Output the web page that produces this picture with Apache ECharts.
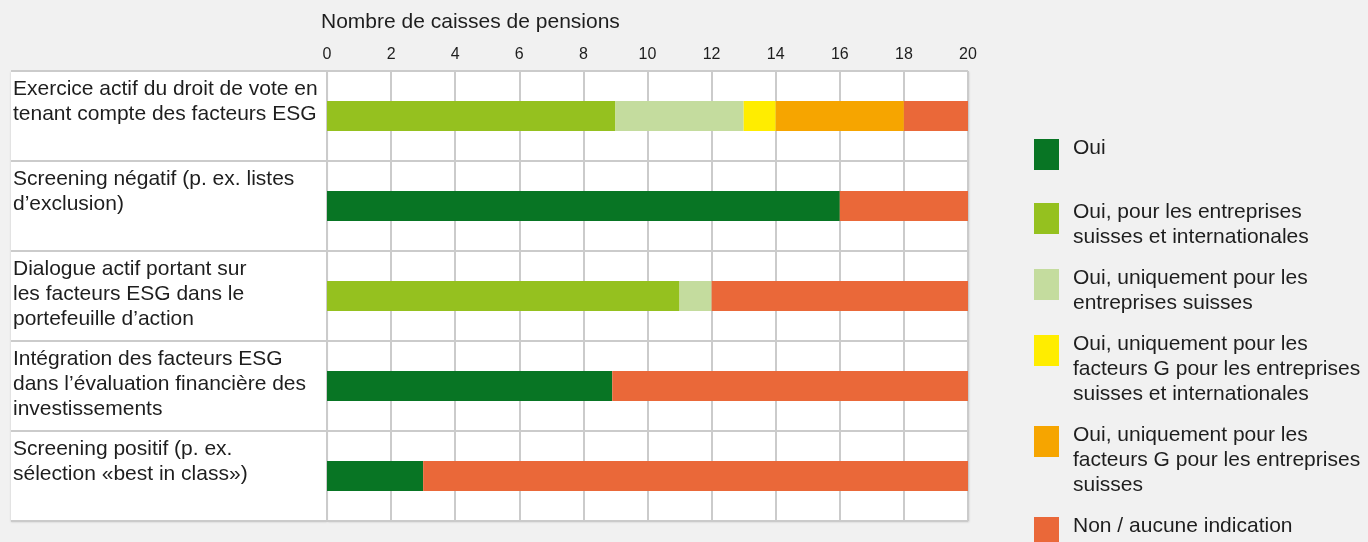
<!DOCTYPE html>
<html><head><meta charset="utf-8">
<script src="https://cdn.jsdelivr.net/npm/echarts@6/dist/echarts.min.js"></script>
<style>html,body{margin:0;padding:0;background:#f1f1f1}#c{width:1368px;height:542px}</style>
</head><body><div id="c"></div>
<script>
const axisTitle = 'Nombre de caisses de pensions';
const categories = [
  'Exercice actif du droit de vote en\ntenant compte des facteurs ESG',
  'Screening négatif (p. ex. listes\nd\u2019exclusion)',
  'Dialogue actif portant sur\nles facteurs ESG dans le\nportefeuille d\u2019action',
  'Intégration des facteurs ESG\ndans l\u2019évaluation financière des\ninvestissements',
  'Screening positif (p. ex.\nsélection «best in class»)'
];
const seriesNames = [
  'Oui',
  'Oui, pour les entreprises\nsuisses et internationales',
  'Oui, uniquement pour les\nentreprises suisses',
  'Oui, uniquement pour les\nfacteurs G pour les entreprises\nsuisses et internationales',
  'Oui, uniquement pour les\nfacteurs G pour les entreprises\nsuisses',
  'Non / aucune indication'
];
const ouiValues        = [0, 16, 0, 8.9, 3];
const ouiIntlValues    = [9, 0, 11, 0, 0];
const ouiSuisseValues  = [4, 0, 1, 0, 0];
const ouiGIntlValues   = [1, 0, 0, 0, 0];
const ouiGSuisseValues = [4, 0, 0, 0, 0];
const nonValues        = [2, 4, 8, 11.1, 17];
const xTicks = { min: 0, max: 20, interval: 2 };

const seriesValues = [ouiValues, ouiIntlValues, ouiSuisseValues, ouiGIntlValues, ouiGSuisseValues, nonValues];
const colors = ['#087524', '#95c11f', '#c4dc9e', '#ffed00', '#f6a500', '#ea6839'];
const FONT = '"Liberation Sans", Arial, sans-serif';
const TXT = '#1e1e1e';
const FS = 21, LH = 25;
const GRID_LINE = { show: true, lineStyle: { color: '#cbcbcb', width: 2 } };

// legend layout: icon tops, text first line aligned with icon top
const legendIconTops = [139, 203, 269, 335, 426, 517];
const legends = seriesNames.map((name, i) => {
  const n = name.split('\n').length;
  const s = LH * n - 37;               // leading spacer (or trailing if negative)
  let fmt, rectTop;
  const body = name.split('\n').map(l => '{t|' + l + '}').join('\n');
  if (s > 0) { fmt = '{sp|\u00a0}\n' + body; rectTop = -3 - s; }
  else { fmt = body + '\n{sb|\u00a0}'; rectTop = -3; }
  return {
    data: [name], left: 1034, top: legendIconTops[i] + rectTop, padding: 0,
    icon: 'rect', itemWidth: 25, itemHeight: 31, selectedMode: false,
    formatter: () => fmt,
    textStyle: {
      color: TXT, fontFamily: FONT, fontSize: FS, lineHeight: LH,
      rich: {
        t: { fontSize: FS, lineHeight: LH, color: TXT, fontFamily: FONT, padding: [0, 0, 0, 9] },
        sp: { fontSize: Math.max(s, 1), lineHeight: Math.max(s, 1) },
        sb: { fontSize: Math.max(-s, 1), lineHeight: Math.max(-s, 1) }
      }
    }
  };
});

const chart = echarts.init(document.getElementById('c'), null, { renderer: 'canvas' });
chart.setOption({
  backgroundColor: '#f1f1f1',
  animation: false,
  title: {
    text: axisTitle, left: 321, top: 12, padding: 0,
    textStyle: { fontSize: FS, fontWeight: 'normal', color: TXT, fontFamily: FONT }
  },
  legend: legends,
  grid: [
    { left: 327, right: 400, top: 71, bottom: 21, show: true, backgroundColor: '#ffffff', borderWidth: 0,
      shadowColor: 'rgba(0,0,0,0.18)', shadowBlur: 2, shadowOffsetX: 1, shadowOffsetY: 1, containLabel: false },
    { left: 11, width: 316, top: 71, bottom: 21, show: true, backgroundColor: '#ffffff', borderWidth: 0,
      shadowColor: 'rgba(0,0,0,0.18)', shadowBlur: 2, shadowOffsetX: 0, shadowOffsetY: 1, containLabel: false }
  ],
  xAxis: [
    { type: 'value', gridIndex: 0, position: 'top', min: xTicks.min, max: xTicks.max, interval: xTicks.interval,
      axisLine: { show: false }, axisTick: { show: false },
      axisLabel: { fontSize: 16, color: TXT, fontFamily: FONT, margin: 8 },
      splitLine: GRID_LINE },
    { type: 'value', gridIndex: 1, show: false, min: 0, max: 1 }
  ],
  yAxis: [
    { type: 'category', gridIndex: 0, data: categories, inverse: true,
      axisLine: { show: false }, axisTick: { show: false }, axisLabel: { show: false },
      splitLine: GRID_LINE },
    { type: 'value', gridIndex: 1, min: 0, max: categories.length, interval: 1, inverse: true,
      axisLine: { show: false }, axisTick: { show: false },
      axisLabel: {
        inside: true, margin: 2, align: 'left', verticalAlign: 'top', padding: [6, 0, 0, 0],
        fontSize: FS, lineHeight: LH, color: TXT, fontFamily: FONT,
        formatter: v => (v < categories.length ? categories[Math.round(v)] : '')
      },
      splitLine: GRID_LINE }
  ],
  series: seriesNames.map((name, i) => ({
    name, type: 'bar', stack: 'total', xAxisIndex: 0, yAxisIndex: 0,
    barWidth: 30, itemStyle: { color: colors[i] },
    data: seriesValues[i]
  }))
});
</script></body></html>
